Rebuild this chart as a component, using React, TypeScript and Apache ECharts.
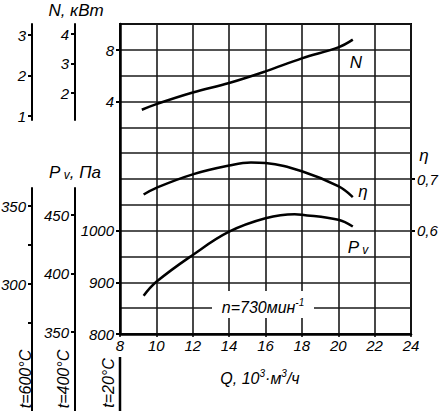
import React, { useEffect, useRef } from "react";
import * as echarts from "echarts";

// Q, 10^3 m3/h
const qN = [9.2, 10, 12, 14, 16, 18, 20, 20.8];
const nValues = [3.36, 3.8, 4.7, 5.43, 6.33, 7.34, 8.19, 8.79];
const qEta = [9.3, 10, 12, 14, 15.2, 16, 18, 20, 20.8];
const etaValues = [0.67, 0.683, 0.709, 0.726, 0.732, 0.731, 0.715, 0.686, 0.665];
const qPv = [9.3, 10, 12, 14, 16, 17.6, 18, 20, 20.8];
const pvValues = [874, 901, 953, 998, 1024, 1032, 1031, 1021, 1008];

// tick ranges of each scale [first tick, last tick, step]
const qScale = [8, 24, 2];
const nScale20 = [4, 8, 4];
const pvScale20 = [800, 1000, 100];
const etaScale = [0.6, 0.7, 0.1];
const nScale600 = [1, 3, 1];
const nScale400 = [2, 4, 1];
const pvScale600 = [275, 350, 25];
const pvLabels600 = [300, 350];
const pvScale400 = [350, 450, 50];

const FONT = "'Liberation Sans Narrow', 'Arial Narrow', 'Liberation Sans', Arial, sans-serif";
const lbl = { fontFamily: FONT, fontStyle: "italic", fontSize: 15, color: "#000" };
const BLACK2 = { color: "#000", width: 2 };
const TICK = 4;

export default function App() {
  const ref = useRef<HTMLDivElement>(null);
  useEffect(() => {
    const chart = echarts.init(ref.current!, undefined, { renderer: "svg" });

    const grids: any[] = [];
    const xAxes: any[] = [];
    const yAxes: any[] = [];

    // main plot grid 0
    grids.push({ left: 120, top: 24, width: 291, height: 310, show: true, borderColor: "#000", borderWidth: 2, outerBoundsMode: "none" });
    xAxes.push({
      type: "value",
      gridIndex: 0,
      min: qScale[0],
      max: qScale[1],
      interval: qScale[2],
      position: "bottom",
      axisLine: { onZero: false, lineStyle: { color: "#000", width: 2.5 } },
      axisTick: { show: false },
      axisLabel: { ...lbl, margin: 4 },
      splitLine: { show: true, lineStyle: { color: "#1a1a1a", width: 1.6 } },
    });
    // y axis 0: grid rows
    yAxes.push({
      type: "value",
      gridIndex: 0,
      position: "left",
      min: 0,
      max: 12,
      interval: 1,
      axisLine: { show: true, onZero: false, lineStyle: { color: "#000", width: 2.5 } },
      axisTick: { show: false },
      axisLabel: { show: false },
      splitLine: { show: true, lineStyle: { color: "#1a1a1a", width: 1.6 } },
    });
    // data axes (hidden): 1 = N, 2 = Pv, 3 = eta
    const hiddenY = (min: number, max: number) => ({
      type: "value",
      gridIndex: 0,
      min,
      max,
      show: false,
      axisLine: { onZero: false },
      splitLine: { show: false },
    });
    yAxes.push(hiddenY(-14, 10));
    yAxes.push(hiddenY(800, 1400));
    yAxes.push(hiddenY(0.4, 1.0));

    // tick strip below the x axis
    {
      const gi = grids.length;
      grids.push({ left: 120, top: 334, width: 291, height: 3, outerBoundsMode: "none" });
      xAxes.push({
        type: "value",
        gridIndex: gi,
        min: qScale[0],
        max: qScale[1],
        interval: qScale[2],
        axisLine: { show: false, onZero: false },
        axisTick: { show: false },
        axisLabel: { show: false },
        splitLine: { show: true, lineStyle: { color: "#000", width: 1.5 } },
      });
      yAxes.push({ type: "value", gridIndex: gi, show: false, min: 0, max: 1, splitLine: { show: false } });
    }

    const addLineGrid = (left: number, top: number, height: number) => {
      const gi = grids.length;
      grids.push({ left, top, width: 1, height, outerBoundsMode: "none" });
      xAxes.push({ type: "value", gridIndex: gi, show: false, min: 0, max: 1 });
      yAxes.push({
        type: "value",
        gridIndex: gi,
        position: "left",
        min: 0,
        max: 1,
        axisLine: { show: true, onZero: false, lineStyle: BLACK2 },
        axisTick: { show: false },
        axisLabel: { show: false },
        splitLine: { show: false },
      });
    };
    // tick strip: short split lines form the ticks, labels beside them
    const addTickGrid = (
      axisX: number,
      top: number,
      height: number,
      scale: number[],
      position: string,
      formatter: (v: number) => string
    ) => {
      const gi = grids.length;
      const left = position === "left" ? axisX - TICK : axisX;
      grids.push({ left, top, width: TICK, height, outerBoundsMode: "none" });
      xAxes.push({ type: "value", gridIndex: gi, show: false, min: 0, max: 1 });
      yAxes.push({
        type: "value",
        gridIndex: gi,
        position,
        min: scale[0],
        max: scale[1],
        interval: scale[2],
        axisLine: { show: false, onZero: false },
        axisTick: { show: false },
        axisLabel: { ...lbl, margin: 2, formatter, showMinLabel: true, showMaxLabel: true },
        splitLine: { show: true, lineStyle: BLACK2 },
      });
    };
    const plain = (v: number) => String(v);

    // main scale ticks
    addTickGrid(120, 50.2, 51.6, nScale20, "left", plain);
    addTickGrid(120, 230.8, 103.2, pvScale20, "left", plain);
    addTickGrid(411, 179, 51.7, etaScale, "right", (v) => v.toFixed(1).replace(".", ","));
    // side scales: lines
    addLineGrid(32, 24, 96);
    addLineGrid(75, 24, 96);
    addLineGrid(32, 188, 223);
    addLineGrid(75, 188, 223);
    // side scales: ticks
    addTickGrid(32, 35, 81, nScale600, "left", plain);
    addTickGrid(75, 34, 59, nScale400, "left", plain);
    addTickGrid(32, 206, 117, pvScale600, "left", (v) => (pvLabels600.indexOf(Math.round(v)) >= 0 ? String(v) : ""));
    addTickGrid(75, 215, 117, pvScale400, "left", plain);

    const txt = (text: string, x: number, y: number, extra: any = {}) => ({
      type: "text",
      x,
      y,
      z: 20,
      style: {
        text,
        fontFamily: FONT,
        fontStyle: "italic",
        fontSize: 16,
        fill: "#000",
        align: "center",
        verticalAlign: "middle",
        textAlign: "center",
        textVerticalAlign: "middle",
        ...extra,
      },
    });
    const richTxt = (text: string, x: number, y: number, big: number, small: number, supAlign: string) => ({
      type: "text",
      x,
      y,
      z: 20,
      style: {
        text,
        align: "center",
        verticalAlign: "middle",
        textAlign: "center",
        textVerticalAlign: "middle",
        rich: {
          a: { fontFamily: FONT, fontStyle: "italic", fontSize: big, fill: "#000", color: "#000", lineHeight: 18, verticalAlign: "bottom" },
          s: { fontFamily: FONT, fontStyle: "italic", fontSize: small, fill: "#000", color: "#000", lineHeight: 18, verticalAlign: supAlign },
        },
      },
    });

    const lineSeries = (yAxisIndex: number, xs: number[], ys: number[]) => ({
      type: "line",
      xAxisIndex: 0,
      yAxisIndex,
      smooth: 0.4,
      showSymbol: false,
      lineStyle: { color: "#000", width: 2.5 },
      data: xs.map((q, i) => [q, ys[i]]),
    });

    const option: any = {
      animation: false,
      grid: grids,
      xAxis: xAxes,
      yAxis: yAxes,
      series: [
        lineSeries(1, qN, nValues),
        lineSeries(3, qEta, etaValues),
        lineSeries(2, qPv, pvValues),
      ],
      graphic: [
        {
          type: "line",
          z: 20,
          shape: { x1: 120, y1: 357, x2: 120, y2: 411 },
          style: { stroke: "#000", lineWidth: 2.5 },
        },
        {
          type: "rect",
          z: 15,
          shape: { x: 212, y: 291, width: 102, height: 27 },
          style: { fill: "#fff" },
        },
        richTxt("{a|n=730мин}{s|-1}", 263, 306, 16, 10, "top"),
        richTxt("{a|Q, 10}{s|3}{a|·м}{s|3}{a|/ч}", 260, 377, 16, 10, "top"),
        richTxt("{a|P}{s| v}{a|, Па}", 75, 172, 17, 12, "bottom"),
        richTxt("{a|P}{s| v}", 358, 247, 17, 12, "bottom"),
        txt("N, кВт", 76, 10, { fontSize: 17 }),
        txt("N", 356, 62, { fontSize: 17 }),
        txt("η", 363, 191, { fontSize: 17 }),
        txt("η", 424, 155, { fontSize: 17 }),
        { ...txt("t=600°C", 25, 379, { fontSize: 16 }), rotation: Math.PI / 2 },
        { ...txt("t=400°C", 63, 379, { fontSize: 16 }), rotation: Math.PI / 2 },
        { ...txt("t=20°C", 108, 383, { fontSize: 16 }), rotation: Math.PI / 2 },
      ],
    };
    chart.setOption(option);
    return () => chart.dispose();
  }, []);
  return (
    <div
      ref={ref}
      style={{ position: "absolute", left: 0, top: 0, width: 440, height: 411, background: "#fff" }}
    />
  );
}
